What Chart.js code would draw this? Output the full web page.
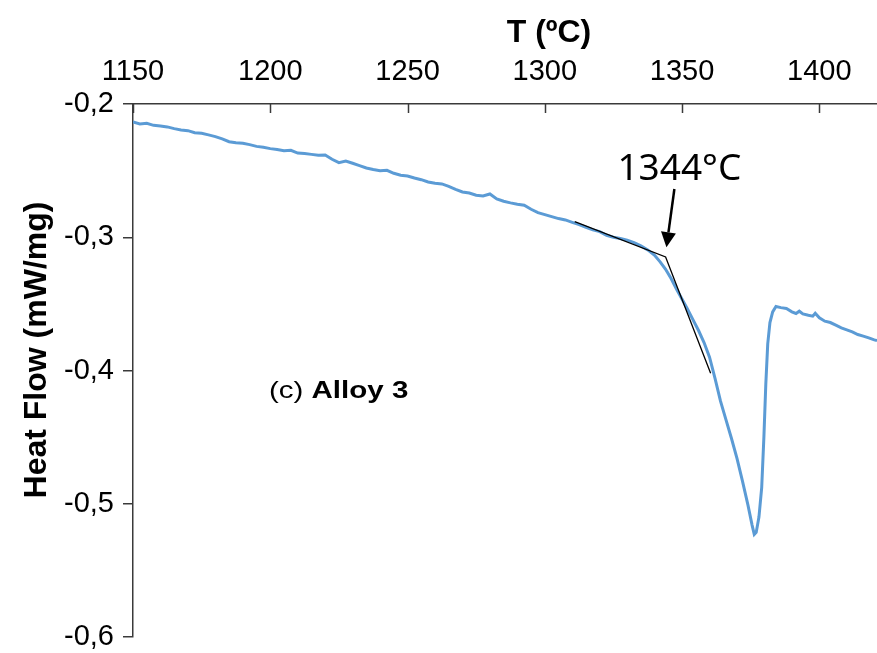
<!DOCTYPE html>
<html>
<head>
<meta charset="utf-8">
<script src="https://cdn.jsdelivr.net/npm/chart.js@4/dist/chart.umd.min.js"></script>
<style>
    html, body { margin: 0; padding: 0; background: #fff; }
    #wrap { width: 877px; height: 653px; }
</style>
</head>
<body>
<div id="wrap"><canvas id="cht-dsc"></canvas></div>
<script>
(function () {

    // DSC heating trace, Alloy 3
    var temps = [
        1150.0, 1152.5, 1155.0, 1157.5, 1160.0, 1162.5, 1165.0, 1167.5, 1170.0, 1172.5,
        1175.0, 1177.5, 1180.0, 1182.5, 1185.0, 1187.5, 1190.0, 1192.5, 1195.0, 1197.5,
        1200.0, 1202.5, 1205.0, 1207.5, 1210.0, 1212.5, 1215.0, 1217.5, 1220.0, 1222.5,
        1225.0, 1227.5, 1230.0, 1232.5, 1235.0, 1237.5, 1240.0, 1242.5, 1245.0, 1247.5,
        1250.0, 1252.5, 1255.0, 1257.5, 1260.0, 1262.5, 1265.0, 1267.5, 1270.0, 1272.5,
        1275.0, 1277.5, 1280.0, 1282.5, 1285.0, 1287.5, 1290.0, 1292.5, 1295.0, 1297.5,
        1300.0, 1302.5, 1305.0, 1307.5, 1310.0, 1312.5, 1315.0, 1317.5, 1320.0, 1322.5,
        1325.0, 1327.5, 1330.0, 1332.5, 1335.0, 1337.5, 1340.0, 1342.0, 1344.0, 1346.0,
        1348.0, 1350.0, 1352.0, 1354.0, 1356.0, 1358.0, 1360.0, 1362.0, 1364.0, 1366.0,
        1368.0, 1370.0, 1372.0, 1374.0, 1375.5, 1376.3, 1377.0, 1378.0, 1379.0, 1379.8,
        1380.5, 1381.2, 1382.0, 1383.0, 1384.2, 1386.0, 1388.0, 1390.0, 1391.5, 1392.7,
        1394.0, 1396.0, 1397.6, 1398.5, 1400.0, 1402.0, 1404.0, 1406.0, 1408.0, 1410.0,
        1412.0, 1414.0, 1416.0, 1418.0, 1420.0, 1421.0
    ];
    var heatFlow = [
        -0.2135, -0.2150, -0.2145, -0.2160, -0.2165, -0.2172, -0.2185, -0.2195, -0.2200, -0.2215,
        -0.2220, -0.2232, -0.2245, -0.2262, -0.2283, -0.2290, -0.2295, -0.2305, -0.2318, -0.2325,
        -0.2335, -0.2342, -0.2350, -0.2348, -0.2368, -0.2372, -0.2378, -0.2385, -0.2382, -0.2415,
        -0.2440, -0.2428, -0.2445, -0.2462, -0.2480, -0.2492, -0.2500, -0.2498, -0.2520, -0.2535,
        -0.2540, -0.2555, -0.2568, -0.2585, -0.2595, -0.2600, -0.2618, -0.2640, -0.2660, -0.2668,
        -0.2685, -0.2690, -0.2675, -0.2712, -0.2730, -0.2742, -0.2752, -0.2760, -0.2790, -0.2815,
        -0.2830, -0.2845, -0.2860, -0.2870, -0.2888, -0.2905, -0.2925, -0.2945, -0.2958, -0.2985,
        -0.3000, -0.3010, -0.3022, -0.3040, -0.3065, -0.3095, -0.3135, -0.3185, -0.3240, -0.3310,
        -0.3390, -0.3465, -0.3540, -0.3620, -0.3700, -0.3790, -0.3900, -0.4060, -0.4230, -0.4370,
        -0.4510, -0.4660, -0.4830, -0.5010, -0.5160, -0.5230, -0.5215, -0.5100, -0.4880, -0.4500,
        -0.4100, -0.3800, -0.3640, -0.3560, -0.3520, -0.3528, -0.3535, -0.3560, -0.3572, -0.3555,
        -0.3575, -0.3585, -0.3592, -0.3570, -0.3605, -0.3630, -0.3640, -0.3660, -0.3680, -0.3695,
        -0.3710, -0.3730, -0.3742, -0.3755, -0.3770, -0.3775
    ];

    // onset construction: baseline tangent, vertex at the onset, leading-edge tangent
    var onsetT = 1344;
    var tangentT = [1310.9, onsetT, 1360.4];
    var tangentHF = [-0.2883, -0.3148, -0.4020];

    var xTicks = [1150, 1200, 1250, 1300, 1350, 1400];
    var yTicks = [-0.2, -0.3, -0.4, -0.5, -0.6];

    var axisColour = '#3a3a3a';
    var lineColour = '#5B9BD5';
    var sans = '"Liberation Sans", Arial, sans-serif';

    function pts(xs, ys) {
        return xs.map(function (x, i) { return { x: x, y: ys[i] }; });
    }

    // inward ticks on the top axis, titles and the onset annotation
    var extras = {
        id: 'extras',
        afterDraw: function (chart) {
            var ctx = chart.ctx;
            var xs = chart.scales.x, ys = chart.scales.y;
            var top = chart.chartArea.top;

            ctx.save();
            ctx.strokeStyle = axisColour;
            ctx.lineWidth = 1.5;
            xTicks.forEach(function (v) {
                var px = Math.round(xs.getPixelForValue(v)) + 0.5;
                ctx.beginPath();
                ctx.moveTo(px, top);
                ctx.lineTo(px, top + 9);
                ctx.stroke();
            });

            ctx.fillStyle = '#000';
            ctx.textAlign = 'center';
            ctx.textBaseline = 'middle';
            ctx.font = 'bold 32px ' + sans;
            ctx.fillText('T (ºC)', 549, 33);

            ctx.save();
            ctx.translate(37, 350);
            ctx.rotate(-Math.PI / 2);
            ctx.fillText('Heat Flow (mW/mg)', 0, 0);
            ctx.restore();

            // panel label, set a little wide
            var lx = xs.getPixelForValue(1199.5), ly = ys.getPixelForValue(-0.4153);
            ctx.save();
            ctx.translate(lx, ly);
            ctx.scale(1.23, 1);
            ctx.textAlign = 'left';
            ctx.font = '24px ' + sans;
            ctx.fillText('(c) ', 0, 0);
            var w = ctx.measureText('(c) ').width;
            ctx.font = 'bold 24px ' + sans;
            ctx.fillText('Alloy 3', w, 0);
            ctx.restore();

            // onset label and arrow
            ctx.textAlign = 'center';
            ctx.font = '37px "Noto Sans", sans-serif';
            ctx.fillText(onsetT + '°C', xs.getPixelForValue(onsetT + 5.0), 169);

            var ax0 = xs.getPixelForValue(onsetT + 3.2), ay0 = ys.getPixelForValue(-0.2638);
            var ax1 = xs.getPixelForValue(onsetT + 0.3), ay1 = ys.getPixelForValue(-0.3075);
            var ang = Math.atan2(ay1 - ay0, ax1 - ax0);
            var hl = 15, hw = 7.5;
            var bx = ax1 - hl * Math.cos(ang), by = ay1 - hl * Math.sin(ang);
            ctx.strokeStyle = '#000';
            ctx.lineWidth = 2.5;
            ctx.beginPath();
            ctx.moveTo(ax0, ay0);
            ctx.lineTo(bx, by);
            ctx.stroke();
            ctx.fillStyle = '#000';
            ctx.beginPath();
            ctx.moveTo(ax1, ay1);
            ctx.lineTo(bx + hw * Math.sin(ang), by - hw * Math.cos(ang));
            ctx.lineTo(bx - hw * Math.sin(ang), by + hw * Math.cos(ang));
            ctx.closePath();
            ctx.fill();
            ctx.restore();
        }
    };

    var cht = new Chart(document.getElementById('cht-dsc'), {
        type: 'line',
        data: {
            datasets: [
                { label: 'onset', data: pts(tangentT, tangentHF), borderColor: '#000', borderWidth: 1.3, pointRadius: 0, tension: 0, order: 0 },
                { label: 'Alloy 3', data: pts(temps, heatFlow), borderColor: lineColour, borderWidth: 3, pointRadius: 0, tension: 0, order: 1 }
            ]
        },
        options: {
            responsive: true,
            maintainAspectRatio: false,
            animation: false,
            devicePixelRatio: 1,
            layout: { padding: { top: 0, left: 0, right: 0, bottom: 16 } },
            plugins: { legend: { display: false }, tooltip: { enabled: false } },
            scales: {
                x: {
                    type: 'linear',
                    position: 'top',
                    min: 1150,
                    max: 1421,
                    afterFit: function (s) {
                        s.height = 104;
                        s.paddingLeft = 0;
                        s.paddingRight = 0;
                    },
                    afterBuildTicks: function (s) { s.ticks = xTicks.map(function (v) { return { value: v }; }); },
                    grid: { drawOnChartArea: false, drawTicks: false, color: axisColour },
                    border: { display: true, color: axisColour, width: 1.5 },
                    ticks: {
                        padding: 15,
                        color: '#000',
                        font: { family: sans, size: 29 },
                        callback: function (v) { return String(v); }
                    }
                },
                y: {
                    min: -0.6,
                    max: -0.2,
                    afterFit: function (s) {
                        s.width = 133;
                        s.paddingTop = 0;
                        s.paddingBottom = 0;
                    },
                    afterBuildTicks: function (s) { s.ticks = yTicks.map(function (v) { return { value: v }; }); },
                    grid: { drawOnChartArea: false, tickLength: 10, color: axisColour, lineWidth: 1.5 },
                    border: { display: true, color: axisColour, width: 1.5 },
                    ticks: {
                        padding: 9,
                        color: '#000',
                        font: { family: sans, size: 29 },
                        callback: function (v) { return v.toFixed(1).replace('.', ','); }
                    }
                }
            }
        },
        plugins: [extras]
    });
})();
</script>
</body>
</html>
